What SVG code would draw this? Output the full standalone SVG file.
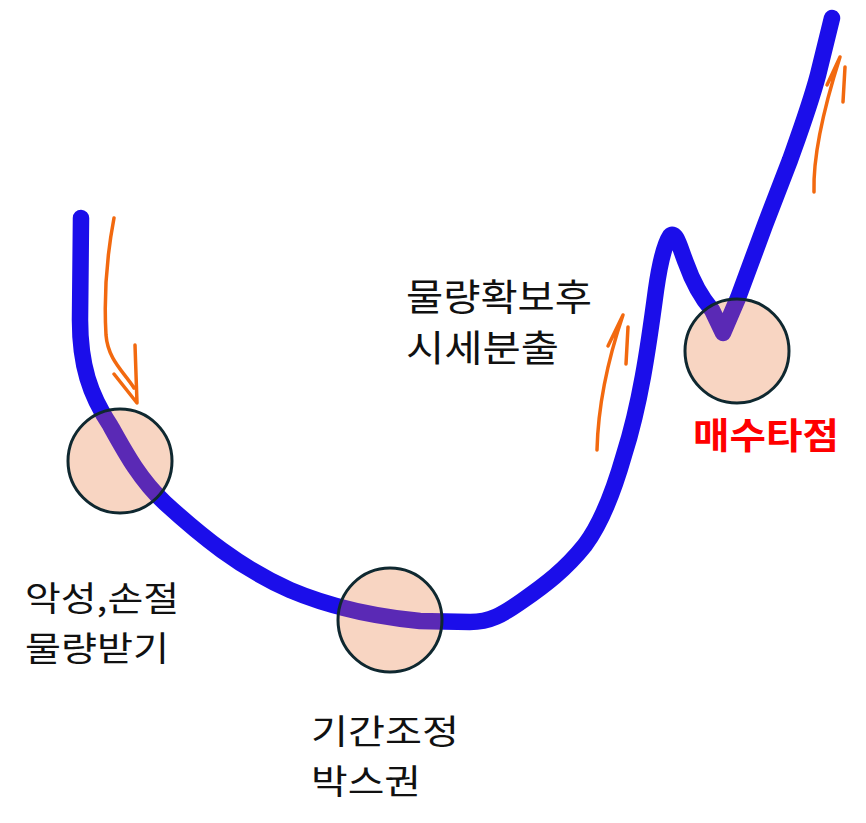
<svg xmlns="http://www.w3.org/2000/svg" width="866" height="823" viewBox="0 0 866 823">
<style>
.line{fill:none;stroke:#1b0eea;stroke-width:16.5;stroke-linecap:round;stroke-linejoin:round}
.inner{fill:none;stroke:#5a29b5;stroke-width:16.5;stroke-linecap:round;stroke-linejoin:round}
.fill{fill:#f8d5c2}
.ring{fill:none;stroke:#0f2830;stroke-width:3}
.arr{fill:none;stroke:#f2690f;stroke-width:3.5;stroke-linecap:round;stroke-linejoin:round}
.t{font-family:"Noto Sans CJK KR","Noto Sans",sans-serif;font-size:37px;fill:#111}
.s{font-size:34px}
.r{font-family:"Noto Sans CJK KR","Noto Sans",sans-serif;font-size:36px;font-weight:bold;fill:#ff0000}
</style>
<defs>
<path id="main" d="M81,218 L80,320 C80,365 90,395 110,425 C125,452 140,480 165,503 C200,535 240,568 290,590 C330,607 370,616 420,621 L470,622 C490,622 502,615 522,601 C545,585 565,570 585,545 C600,525 614,490 624,455 C640,405 648,350 656,290 C660,262 664,245 670,236 C676,230 680,248 686,263 C692,280 700,296 712,310 L723,333 L738,298 L765,225 L790,160 C800,132 810,105 818,75 L832,18"/>
<clipPath id="c1"><circle cx="120" cy="461" r="52"/></clipPath>
<clipPath id="c2"><circle cx="390" cy="620" r="52"/></clipPath>
<clipPath id="c3"><circle cx="737" cy="351" r="52"/></clipPath>
</defs>
<g id="connectors">
<use href="#main" class="line"/>
<path class="arr" d="M114,218 C106,260 104,300 106,335 C108,360 124,372 134,388 M135,345 L137,403 L114,374"/>
<path class="arr" d="M597,450 C598,410 605,368 623,315 M608,346 L623,315 M628,327 L626,364"/>
<path class="arr" d="M814,192 C813,160 820,120 840,57 M827,85 L840,57 M845,67 L843,102"/>
</g>
<g id="node1">
<circle cx="120" cy="461" r="52" class="fill"/>
<use href="#main" class="inner" clip-path="url(#c1)"/>
<circle cx="120" cy="461" r="52" class="ring"/>
</g>
<g id="node2">
<circle cx="390" cy="620" r="52" class="fill"/>
<use href="#main" class="inner" clip-path="url(#c2)"/>
<circle cx="390" cy="620" r="52" class="ring"/>
</g>
<g id="node3">
<circle cx="737" cy="351" r="52" class="fill"/>
<use href="#main" class="inner" clip-path="url(#c3)"/>
<circle cx="737" cy="351" r="52" class="ring"/>
</g>
<g id="label1">
<text class="t s"><tspan x="25" y="611" textLength="154" lengthAdjust="spacingAndGlyphs">악성,손절</tspan><tspan x="25" y="660.5" textLength="144" lengthAdjust="spacingAndGlyphs">물량받기</tspan></text>
</g>
<g id="label2">
<text class="t s"><tspan x="311" y="744" textLength="148" lengthAdjust="spacingAndGlyphs">기간조정</tspan><tspan x="311" y="794" textLength="110" lengthAdjust="spacingAndGlyphs">박스권</tspan></text>
</g>
<g id="label3">
<text class="t"><tspan x="406" y="311" textLength="186" lengthAdjust="spacingAndGlyphs">물량확보후</tspan><tspan x="406" y="362" textLength="153" lengthAdjust="spacingAndGlyphs">시세분출</tspan></text>
</g>
<g id="label4">
<text class="r" x="693" y="449" textLength="146" lengthAdjust="spacingAndGlyphs">매수타점</text>
</g>
</svg>
